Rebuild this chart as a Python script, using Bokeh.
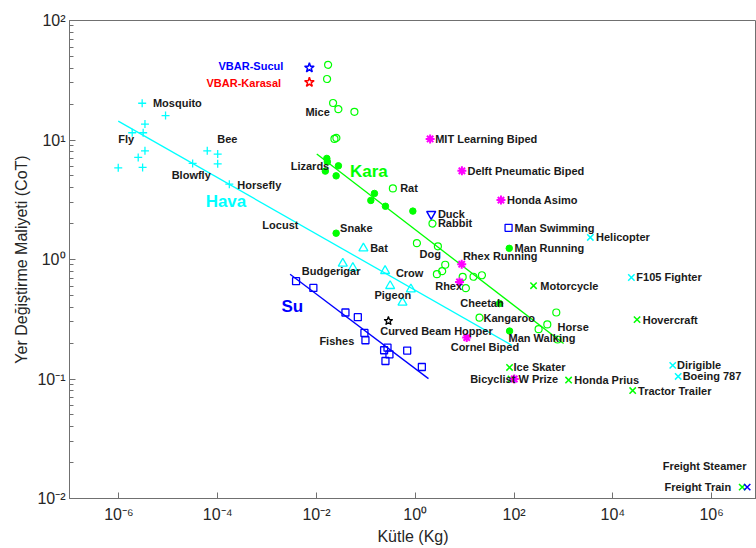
from bokeh.plotting import figure
from bokeh.models import Range1d, FixedTicker, CustomJSTickFormatter, ColumnDataSource
from bokeh.core.properties import value
from bokeh.embed import file_html
from bokeh.resources import INLINE

# ---------------- data ----------------
x_ticks = [1e-6, 1e-4, 1e-2, 1e0, 1e2, 1e4, 1e6]
y_ticks = [1e-2, 1e-1, 1e0, 1e1, 1e2]
y_minor = [m * d for d in [1e-2, 1e-1, 1e0, 1e1] for m in range(2, 10)]

insect_mass = [2.96e-6, 8.8e-6, 3.37e-6, 1.86e-6, 3.1e-6, 3.37e-6, 2.46e-6, 0.97e-6, 3.02e-6, 3.11e-5, 6.15e-5, 1.0e-4, 1.0e-4, 1.72e-4]
insect_cot = [20.3, 16.0, 13.6, 11.5, 11.5, 8.12, 7.15, 5.85, 5.9, 6.37, 8.12, 7.62, 6.32, 4.27]

bird_mass = [0.0891, 0.0341, 0.0545, 0.245, 0.310, 0.815, 0.551]
bird_cot = [1.24, 0.925, 0.851, 0.803, 0.601, 0.564, 0.436]

air_vehicle_mass = [3500, 23700, 1.63e5, 2.10e5]
air_vehicle_cot = [1.53, 0.707, 0.130, 0.105]

land_open_mass = [0.0172, 0.0164, 0.0217, 0.0278, 0.0586, 0.0231, 0.0253, 0.352, 2.23, 1.08, 2.87,
                  4.04, 3.51, 2.74, 9.12, 15.1, 22.4, 10.6, 20.0, 716, 471, 314, 760]
land_open_cot = [42.6, 32.4, 20.4, 18.1, 17.2, 10.2, 10.4, 3.93, 2.00, 1.37, 1.29,
                 0.904, 0.798, 0.753, 0.715, 0.717, 0.738, 0.575, 0.326, 0.360, 0.286, 0.261, 0.214]

land_filled_mass = [0.0162, 0.0166, 0.0278, 0.0151, 0.0250, 0.149, 0.126, 0.249, 0.893, 0.025, 50.8, 81.1, 80]
land_filled_cot = [7.01, 6.57, 6.08, 5.49, 5.01, 3.57, 3.12, 2.79, 2.54, 1.66, 0.428, 0.252, 1.24]

land_vehicle_mass = [248, 30900, 81, 86.5, 1270, 25200, 4.15e6]
land_vehicle_cot = [0.604, 0.314, 0.125, 0.100, 0.098, 0.080, 0.01245]

fish_mass = [0.00386, 0.00865, 0.0386, 0.0687, 0.0935, 0.098, 0.234, 0.274, 0.300, 0.249, 0.686, 1.36]
fish_cot = [0.658, 0.578, 0.360, 0.329, 0.243, 0.211, 0.174, 0.183, 0.161, 0.1415, 0.173, 0.126]

swim_mass = [77.4]
swim_cot = [1.84]
duck_mass = [2.10]
duck_cot = [2.40]
steamer_mass = [5.24e6]
steamer_cot = [0.01245]

robot_mass = [2.00, 8.79, 54.3, 8.71, 7.87, 11.0, 101]
robot_cot = [10.2, 5.52, 3.14, 0.914, 0.649, 0.222, 0.100]

hopper_mass = [0.286]
hopper_cot = [0.306]
vbar_sucul_mass = [0.00718]
vbar_sucul_cot = [40.2]
vbar_karasal_mass = [0.00718]
vbar_karasal_cot = [30.4]

air_fit_mass = [9.7e-7, 90.6]
air_fit_cot = [14.4, 0.191]
land_fit_mass = [0.01014, 1007]
land_fit_cot = [7.62, 0.198]
water_fit_mass = [0.00292, 1.85]
water_fit_cot = [0.753, 0.1007]

label_text = ["Mosquito", "Fly", "Bee", "Blowfly", "Horsefly", "Mice", "Lizards", "Rat", "Duck", "Rabbit",
              "Snake", "Locust", "Bat", "Dog", "Rhex Running", "Budgerigar", "Crow", "Rhex", "Pigeon",
              "Cheetah", "Kangaroo", "Curved Beam Hopper", "Fishes", "Cornel Biped", "Horse", "Man Walking",
              "Ice Skater", "Bicyclist", "W Prize", "Honda Prius", "Tractor Trailer", "Dirigible", "Boeing 787",
              "Hovercraft", "Motorcycle", "F105 Fighter", "Helicopter", "Man Swimming", "Man Running",
              "Honda Asimo", "Delft Pneumatic Biped", "MIT Learning Biped", "Freight Steamer", "Freight Train"]
label_mass = [4.89e-6, 9.68e-7, 9.82e-5, 1.17e-5, 2.49e-4, 0.00596, 0.00301, 0.494, 2.87, 2.87,
              0.0301, 8.02e-4, 0.122, 1.22, 9.22, 0.00504, 0.405, 2.53, 0.149,
              8.13, 24.1, 0.195, 0.01146, 5.21, 760, 77.4,
              97.7, 12.9, 123, 1660, 32400, 2.0e5, 2.59e5,
              40200, 340, 29900, 4570, 102, 102,
              71.8, 11.4, 2.53, 1.02e5, 1.11e5]
label_cot = [20.3, 10.1, 10.1, 5.05, 4.22, 17.2, 6.08, 3.98, 2.40, 2.01,
             1.83, 1.94, 1.24, 1.11, 1.07, 0.803, 0.773, 0.601, 0.509,
             0.433, 0.324, 0.252, 0.206, 0.186, 0.272, 0.222,
             0.125, 0.100, 0.100, 0.098, 0.080, 0.130, 0.105,
             0.314, 0.604, 0.707, 1.53, 1.84, 1.24,
             3.14, 5.52, 10.2, 0.0186, 0.01245]

group_text = ["Hava", "Kara", "Su"]
group_mass = [1.47e-4, 0.115, 0.00325]
group_cot = [3.04, 5.49, 0.401]

vbar_text = ["VBAR-Sucul", "VBAR-Karasal"]
vbar_label_mass = [0.00213, 0.00192]
vbar_label_cot = [41.8, 30.1]

# ---------------- styling ----------------
CYAN = "#00FFFF"
GREEN = "#00FF00"
BLUE = "#0000FF"
MAGENTA = "#FF00FF"
RED = "#FF0000"
FONT = value("Liberation Sans")

p = figure(width=756, height=548, x_axis_type="log", y_axis_type="log",
           x_range=Range1d(1e-7, 10 ** 6.908), y_range=Range1d(1e-2, 1e2),
           output_backend="svg", toolbar_location=None,
           min_border_left=69, min_border_right=0, min_border_top=20, min_border_bottom=50)

p.xgrid.visible = False
p.ygrid.visible = False
p.outline_line_color = "#707070"
p.outline_line_width = 1
p.background_fill_color = "white"
p.border_fill_color = "white"

fmt_code = """
const sup = {"-": "\u207b", "0": "\u2070", "1": "\u00b9", "2": "\u00b2", "3": "\u00b3", "4": "\u2074",
             "5": "\u2075", "6": "\u2076", "7": "\u2077", "8": "\u2078", "9": "\u2079"};
const e = Math.round(Math.log10(tick));
return "10" + String(e).split("").map(c => sup[c]).join("");
"""

p.xaxis.ticker = FixedTicker(ticks=x_ticks, minor_ticks=[])
p.yaxis.ticker = FixedTicker(ticks=y_ticks, minor_ticks=y_minor)
for ax in (p.xaxis, p.yaxis):
    ax.formatter = CustomJSTickFormatter(code=fmt_code)
    ax.axis_line_color = "#707070"
    ax.major_tick_line_color = "#707070"
    ax.minor_tick_line_color = "#707070"
    ax.major_tick_in = 6
    ax.major_tick_out = 0
    ax.minor_tick_in = 4
    ax.minor_tick_out = 0
    ax.major_label_text_font = "Liberation Sans"
    ax.major_label_text_font_size = "16px"
    ax.major_label_text_color = "#262626"
    ax.axis_label_text_font = "Liberation Sans"
    ax.axis_label_text_font_size = "16px"
    ax.axis_label_text_font_style = "normal"
    ax.axis_label_text_color = "#262626"

p.xaxis.axis_label = "Kütle (Kg)"
p.yaxis.axis_label = "Yer Değiştirme Maliyeti (CoT)"
p.xaxis.major_label_standoff = 7
p.yaxis.major_label_standoff = 4
p.xaxis.axis_label_standoff = 2
p.yaxis.axis_label_standoff = 4

# fit lines
p.line(air_fit_mass, air_fit_cot, line_color=CYAN, line_width=1.3)
p.line(land_fit_mass, land_fit_cot, line_color=GREEN, line_width=1.3)
p.line(water_fit_mass, water_fit_cot, line_color=BLUE, line_width=1.3)

# markers
p.scatter(insect_mass, insect_cot, marker="cross", size=8, line_color=CYAN, line_width=1.3)
p.scatter(bird_mass, bird_cot, marker="triangle", size=9, line_color=CYAN, fill_color=None, line_width=1.3)
p.scatter(air_vehicle_mass, air_vehicle_cot, marker="x", size=9, line_color=CYAN, line_width=1.5)

p.scatter(land_open_mass, land_open_cot, marker="circle", size=7, line_color=GREEN, fill_color=None, line_width=1.2)
p.scatter(land_filled_mass, land_filled_cot, marker="circle", size=6.5, line_color=GREEN, fill_color=GREEN)
p.scatter(land_vehicle_mass, land_vehicle_cot, marker="x", size=9, line_color=GREEN, line_width=1.5)

p.scatter(fish_mass, fish_cot, marker="square", size=7, line_color=BLUE, fill_color=None, line_width=1.3)
p.scatter(swim_mass, swim_cot, marker="square", size=7, line_color=BLUE, fill_color=None, line_width=1.3)
p.scatter(duck_mass, duck_cot, marker="inverted_triangle", size=9, line_color=BLUE, fill_color=None, line_width=1.5)
p.scatter(steamer_mass, steamer_cot, marker="x", size=9, line_color=BLUE, line_width=1.5)

p.scatter(robot_mass, robot_cot, marker="asterisk", size=9, line_color=MAGENTA, line_width=2)
p.scatter(hopper_mass, hopper_cot, marker="star", size=9, line_color="black", fill_color=None, line_width=1.3)
p.scatter(vbar_sucul_mass, vbar_sucul_cot, marker="star", size=10, line_color=BLUE, fill_color=None, line_width=1.5)
p.scatter(vbar_karasal_mass, vbar_karasal_cot, marker="star", size=10, line_color=RED, fill_color=None, line_width=1.5)

# labels
lab = ColumnDataSource(dict(x=label_mass, y=label_cot, t=label_text))
p.text(x="x", y="y", text="t", source=lab, text_font=FONT, text_font_style="bold",
       text_font_size="11px", text_color="#1a1a1a", text_align="left", text_baseline="middle")

grp = ColumnDataSource(dict(x=group_mass, y=group_cot, t=group_text, c=[CYAN, GREEN, BLUE]))
p.text(x="x", y="y", text="t", source=grp, text_font=FONT, text_font_style="bold",
       text_font_size="17px", text_color="c", text_align="center", text_baseline="middle")

vb = ColumnDataSource(dict(x=vbar_label_mass, y=vbar_label_cot, t=vbar_text, c=[BLUE, RED]))
p.text(x="x", y="y", text="t", source=vb, text_font=FONT, text_font_style="bold",
       text_font_size="11px", text_color="c", text_align="right", text_baseline="middle")

open("out.html", "w").write(file_html(p, INLINE))
